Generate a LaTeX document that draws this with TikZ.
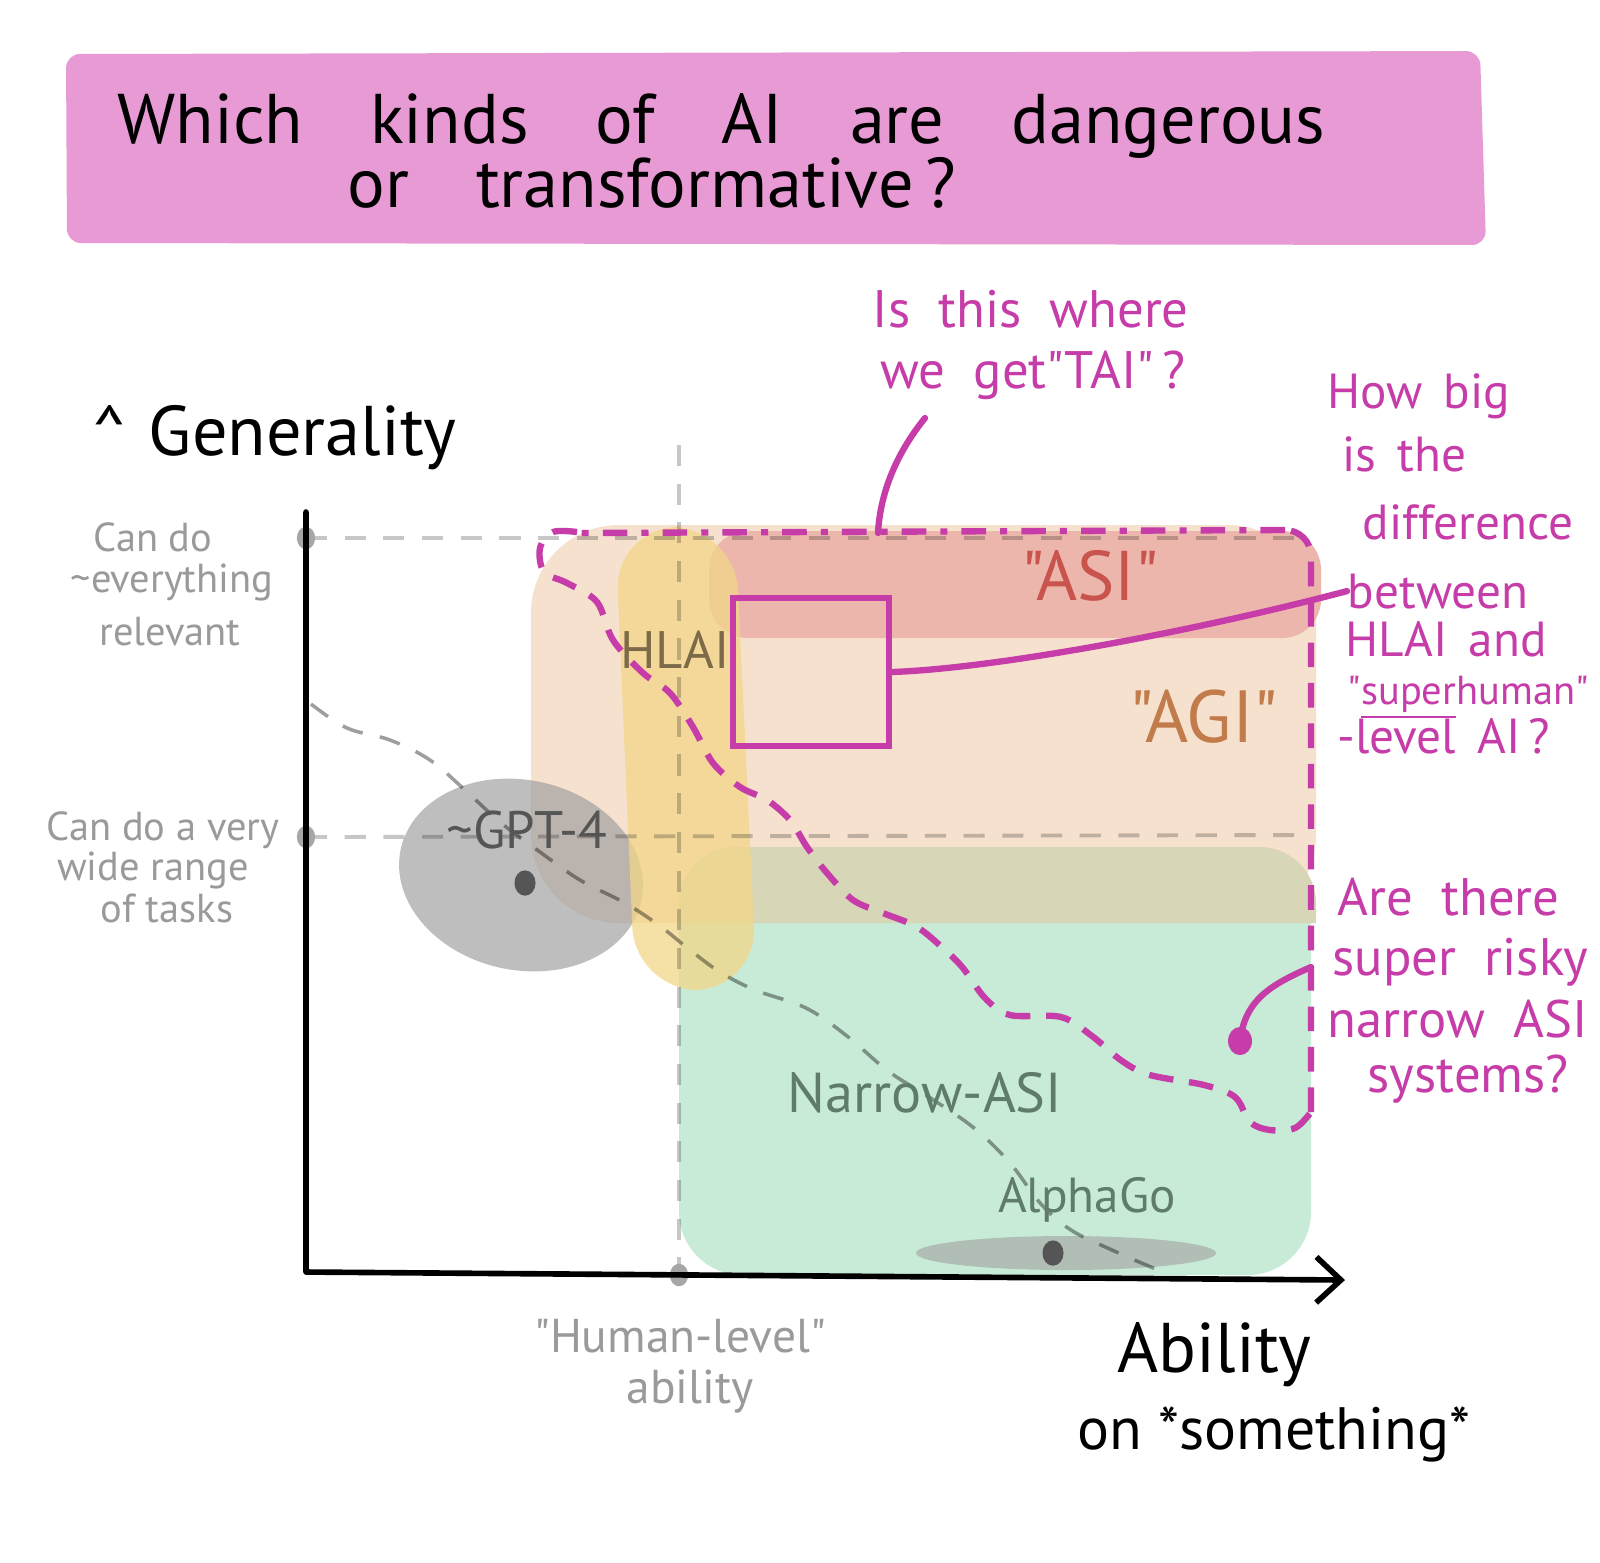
\documentclass[tikz,border=0pt]{standalone}
\usepackage{fontspec}
\setmainfont{PT Sans}[Ligatures=TeXOff]
\usetikzlibrary{arrows.meta}

\definecolor{titlepink}{HTML}{E89AD5}
\definecolor{qmagenta}{HTML}{C63CA8}
\definecolor{agipeach}{HTML}{F6E1CE}
\definecolor{asirose}{HTML}{EDB6AC}
\definecolor{narrowgreen}{HTML}{C8EBD7}
\definecolor{overlapolive}{HTML}{D7D7B7}
\definecolor{hlaiyellow}{HTML}{F2D688}
\definecolor{blobgrey}{HTML}{A0A0A0}
\definecolor{labelgrey}{HTML}{9A9A9A}
\definecolor{asired}{HTML}{C9544D}
\definecolor{agibrown}{HTML}{C27B4A}
\definecolor{hlaibrown}{HTML}{7D6A48}
\definecolor{gptgrey}{HTML}{555555}
\definecolor{narrowtext}{HTML}{5E7C68}

\begin{document}
\begin{tikzpicture}[x=0.01cm, y=-0.01cm,
    qline/.style={draw=qmagenta, line width=1.8pt, line cap=round},
    qdashed/.style={qline, line cap=butt, dash pattern=on 7pt off 4.5pt},
    qdashdot/.style={qline, line cap=butt, dash pattern=on 7pt off 4pt on 2pt off 4pt},
    guide/.style={draw=black, draw opacity=.22, line width=1.1pt, dash pattern=on 6pt off 5pt},
    guidecurve/.style={draw=black, draw opacity=.38, line width=1pt, dash pattern=on 6pt off 5pt},
    axis/.style={line width=1.6pt, line cap=round, line join=round},
    titletext/.style={anchor=base west, inner sep=0pt, font={\fontsize{20}{24}\selectfont\spaceskip=19pt}},
    note/.style={text=qmagenta, anchor=base west, inner sep=0pt, font={\fontsize{14}{17}\selectfont\spaceskip=6pt}},
    bignote/.style={note, font={\fontsize{15}{18}\selectfont\spaceskip=8pt}},
    greytext/.style={text=labelgrey, anchor=base, inner sep=0pt, font={\fontsize{11.5}{14}\selectfont}},
    tag/.style={anchor=base, inner sep=0pt}
  ]
  \fill[white] (0,0) rectangle (1600,1562);
  \useasboundingbox (0,0) rectangle (1600,1562);

  % title banner
  \fill[titlepink, rounded corners=4pt] (66,54) -- (1480,51) -- (1486,245) -- (67,243) -- cycle;
  \node[titletext] (title1) at (117,143) {Which kinds of AI are dangerous};
  \node[titletext] (title2) at (347,207) {or transformative\,?};

  % regions
  \fill[agipeach, rounded corners=25pt] (531,525) rectangle (1316,923);
  \fill[asirose, rounded corners=11pt] (709,531) rectangle (1321,638);
  \fill[narrowgreen, rounded corners=18pt] (679,847) rectangle (1311,1275);
  \fill[overlapolive] (679,923) [rounded corners=16pt] -- (679,847) -- (1316,847) [sharp corners] -- (1316,923) -- cycle;
  \fill[blobgrey, opacity=.68, rotate around={-12:(521,875)}] (521,875) ellipse [x radius=123, y radius=95];
  \fill[blobgrey, opacity=.6] (1066,1253) ellipse [x radius=150, y radius=17];
  \fill[hlaiyellow, opacity=.75, rounded corners=18pt] (615,527) -- (735,527) -- (757,990) -- (635,990) -- cycle;

  % grey guide lines
  \coordinate (everything) at (306,538);
  \coordinate (widerange) at (306,837);
  \coordinate (humanlevel) at (679,1275);
  \draw[guide] (everything) -- (1311,538);
  \draw[guide] (widerange) -- (1311,835);
  \draw[guide] (679,445) -- (humanlevel);
  \draw[guidecurve] plot[smooth, tension=.6] coordinates {(311,704) (347,728) (390,740) (430,760) (465,790) (500,822) (540,852) (580,880) (625,903) (660,926) (690,950) (720,972) (755,990) (806,1008) (847,1036) (888,1071) (929,1097) (974,1128) (1010,1163) (1041,1204) (1071,1230) (1112,1250) (1158,1270)};

  % axes
  \foreach \p in {everything, widerange, humanlevel}
    \fill[black!35] (\p) ellipse [x radius=2.6pt, y radius=3.2pt];
  \coordinate (ytop) at (306,512);
  \coordinate (origin) at (306,1272);
  \coordinate (xend) at (1345,1280);
  \draw[axis, -{Straight Barb[length=7pt, width=13pt]}] (ytop) -- (origin) -- (xend);
  \node[anchor=base west, inner sep=0pt, font=\fontsize{20}{24}\selectfont] (ylabel) at (92,455) {\textasciicircum\hspace{6pt}Generality};
  \node[anchor=base west, inner sep=0pt, font=\fontsize{20}{24}\selectfont] (xlabel) at (1117,1372) {Ability};
  \node[anchor=base west, inner sep=0pt, font=\fontsize{17}{20}\selectfont] (xlabel2) at (1077,1449) {on *something*};

  % grey axis notes
  \node[greytext] (ev1) at (153,551) {Can do};
  \node[greytext] (ev2) at (172,592) {\textasciitilde everything};
  \node[greytext] (ev3) at (170,645) {relevant};
  \node[greytext] (wr1) at (163,840) {Can do a very};
  \node[greytext] (wr2) at (153,880) {wide range};
  \node[greytext] (wr3) at (167,922) {of tasks};
  \node[greytext, font=\fontsize{13.5}{16}\selectfont] (hl1) at (680,1352) {"Human-level"};
  \node[greytext, font=\fontsize{13.5}{16}\selectfont] (hl2) at (690,1403) {ability};

  % region names
  \node[tag, text=asired, font=\fontsize{20}{24}\selectfont] (asiname) at (1090,600) {"ASI"};
  \node[tag, text=agibrown, font=\fontsize{21}{25}\selectfont] (aginame) at (1204,742) {"AGI"};
  \node[tag, text=hlaibrown, font=\fontsize{15}{18}\selectfont] (hlainame) at (675,668) {HLAI};
  \node[tag, text=gptgrey, font=\fontsize{15}{18}\selectfont] (gptname) at (527,848) {\textasciitilde GPT-4};
  \fill[gptgrey] (525,883) ellipse [x radius=3pt, y radius=3.6pt];
  \node[tag, text=narrowtext, font=\fontsize{16}{19}\selectfont] (narrowname) at (925,1112) {Narrow-ASI};
  \node[tag, text=narrowtext, font=\fontsize{14}{17}\selectfont] (alphaname) at (1087,1212) {AlphaGo};
  \fill[gptgrey] (1053,1253) ellipse [x radius=3pt, y radius=3.6pt];

  % magenta boundary of the risky zone
  \draw[qdashed] plot[smooth, tension=.55] coordinates {(577,532) (553,532) (540,548) (544,572) (567,583) (597,602) (613,640) (643,673) (670,693) (693,727) (713,763) (740,787) (767,800) (790,820) (807,847) (827,873) (853,900) (883,913) (917,927) (945,950) (963,968) (985,998) (1010,1015) (1061,1017) (1092,1036) (1122,1061) (1150,1075) (1204,1085) (1235,1097) (1250,1122) (1270,1130) (1295,1128) (1311,1112)};
  \draw[qdashed] (1311,1112) -- (1311,556) to[out=90, in=0] (1285,530);
  \draw[qdashdot] (1285,530) -- (577,533);

  % questions
  \node[qline, draw, minimum width=44.4pt, minimum height=42pt, inner sep=0pt] (hlaibox) at (811,672) {};

  \node[bignote] (tai1) at (872,327) {Is this where};
  \node[bignote] (tai2) at (880,388) {we get"TAI"\,?};
  \coordinate (taihead) at (925,418);
  \coordinate (taifoot) at (878,533);
  \draw[qline] (taihead) .. controls (895,455) and (880,495) .. (taifoot);

  \node[note] (gap1) at (1327,408) {How big};
  \node[note] (gap2) at (1342,471) {is the};
  \node[note] (gap3) at (1362,539) {difference};
  \node[note] (qbetween) at (1347,608) {between};
  \node[note] (gap5) at (1345,656) {HLAI and};
  \node[note, font=\fontsize{11.5}{14}\selectfont] (gap6) at (1347,704) {"\underline{super}human"};
  \node[note] (gap7) at (1337,753) {-level AI\,?};
  \draw[qline] (hlaibox.east) .. controls (1000,668) and (1200,630) .. (qbetween.west);

  \node[bignote] (risk1) at (1337,915) {Are there};
  \node[bignote] (risk2) at (1332,975) {super risky};
  \node[bignote] (risk3) at (1327,1037) {narrow ASI};
  \node[bignote] (risk4) at (1367,1092) {systems?};
  \coordinate (riskfoot) at (1311,967);
  \coordinate (riskdot) at (1240,1041);
  \draw[qline] (riskfoot) .. controls (1270,985) and (1245,1000) .. (riskdot);
  \fill[qmagenta] (riskdot) ellipse [x radius=3.4pt, y radius=4pt];
\end{tikzpicture}
\end{document}
